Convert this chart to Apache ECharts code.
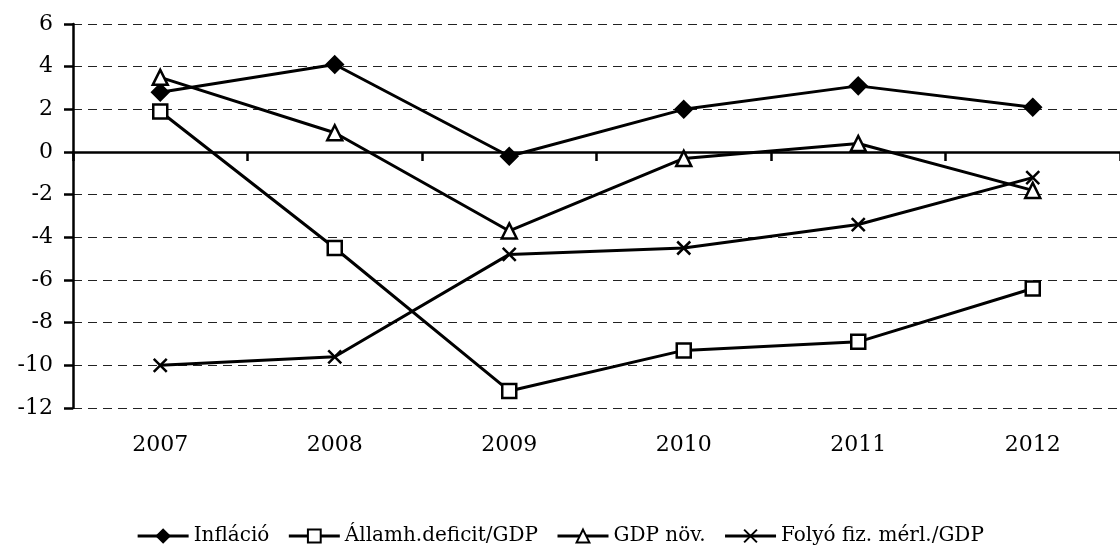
<!DOCTYPE html>
<html>
<head>
<meta charset="utf-8">
<script src="https://cdn.jsdelivr.net/npm/echarts@6/dist/echarts.min.js"></script>
<style>
  html, body { margin: 0; padding: 0; background: #fff; }
</style>
</head>
<body>
<div id="chart" style="width: 1120px; height: 548px"></div>
<script>
const years = ["2007", "2008", "2009", "2010", "2011", "2012"];
const inflacio = [2.8, 4.1, -0.2, 2.0, 3.1, 2.1];
const deficit = [1.9, -4.5, -11.2, -9.3, -8.9, -6.4];
const gdpNov = [3.5, 0.9, -3.7, -0.3, 0.4, -1.8];
const folyo = [-10.0, -9.6, -4.8, -4.5, -3.4, -1.2];

const FONT = "DejaVu Serif";

function lineSeries(name, data, symbol, size, filled) {
  return {
    name: name,
    type: "line",
    data: data,
    symbol: symbol,
    symbolSize: size,
    showAllSymbol: true,
    lineStyle: { color: "#000", width: 3 },
    itemStyle: {
      color: filled ? "#000" : "#fff",
      borderColor: "#000",
      borderWidth: 2.5,
      opacity: 1,
    },
    emphasis: { disabled: true },
    z: 3,
  };
}

const chart = echarts.init(document.getElementById("chart"));

const option = {
  animation: false,
  textStyle: { fontFamily: FONT },
  grid: { left: 73, right: -3, top: 24, bottom: 140, containLabel: false },
  legend: {
    bottom: -3,
    left: "center",
    itemWidth: 51,
    itemHeight: 16,
    itemGap: 18,
    lineStyle: { width: 3 },
    textStyle: { fontFamily: FONT, fontSize: 20, color: "#000" },
    data: ["Infláció", "Államh.deficit/GDP", "GDP növ.", "Folyó fiz. mérl./GDP"],
  },
  xAxis: [
    {
      // labels at the bottom
      type: "category",
      data: years,
      position: "bottom",
      axisLine: { show: false, onZero: false },
      axisTick: { show: false },
      axisLabel: { margin: 26, fontFamily: FONT, fontSize: 22, color: "#000" },
      splitLine: { show: false },
    },
    {
      // the zero line with its ticks
      type: "category",
      data: years,
      position: "bottom",
      axisLine: { show: true, onZero: true, lineStyle: { color: "#000", width: 2.5 } },
      axisTick: { show: true, length: 9, lineStyle: { color: "#000", width: 2.5 } },
      axisLabel: { show: false },
      splitLine: { show: false },
    },
  ],
  yAxis: {
    type: "value",
    min: -12,
    max: 6,
    interval: 2,
    axisLine: { show: true, lineStyle: { color: "#000", width: 2.5 } },
    axisTick: { show: true, length: 9, lineStyle: { color: "#000", width: 2.5 } },
    axisLabel: { margin: 20, fontFamily: FONT, fontSize: 22, color: "#000" },
    splitLine: {
      show: true,
      lineStyle: { color: "#222", width: 1, type: [9, 6] },
    },
  },
  series: [
    lineSeries("Infláció", inflacio, "diamond", 16, true),
    lineSeries("Államh.deficit/GDP", deficit, "rect", 14, false),
    lineSeries("GDP növ.", gdpNov, "triangle", 15, false),
    lineSeries("Folyó fiz. mérl./GDP", folyo, "path://M0,0L10,10M0,10L10,0", 13, true),
  ],
};

chart.setOption(option);
</script>
</body>
</html>
